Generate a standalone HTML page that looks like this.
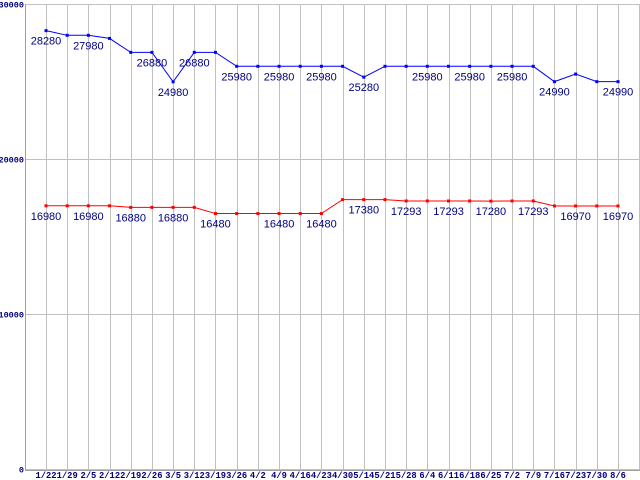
<!DOCTYPE html>
<html><head><meta charset="utf-8"><style>
html,body{margin:0;padding:0;background:#fff;}
svg{display:block;}
</style></head><body>
<svg id="chart" width="640" height="480" xmlns="http://www.w3.org/2000/svg"></svg>
<script>
const categories=["1/22","1/29","2/5","2/12","2/19","2/26","3/5","3/12","3/19","3/26","4/2","4/9","4/16","4/23","4/30","5/14","5/21","5/28","6/4","6/11","6/18","6/25","7/2","7/9","7/16","7/23","7/30","8/6"];
const blueValues=[28280,27980,27980,27780,26880,26880,24980,26880,26880,25980,25980,25980,25980,25980,25980,25280,25980,25980,25980,25980,25980,25980,25980,25980,24990,25480,24990,24990];
const redValues=[16980,16980,16980,16980,16880,16880,16880,16880,16480,16480,16480,16480,16480,16480,17380,17380,17380,17293,17293,17293,17293,17280,17293,17293,16970,16970,16970,16970];
const blueLabelIdx=[0,2,5,6,7,9,11,13,15,18,20,22,24,27];
const redLabelIdx=[0,2,4,6,8,11,13,15,17,19,21,23,25,27];
const yTicks=[0,10000,20000,30000];
const NS="http://www.w3.org/2000/svg";
const svg=document.getElementById('chart');
const X0=46,XSTEP=(618-46)/27,Y0=469,YSCALE=465/30000;
const xs=i=>X0+i*XSTEP;
const ys=v=>Y0-v*YSCALE;
function mk(tag,attrs,parent){const e=document.createElementNS(NS,tag);for(const k in attrs)e.setAttribute(k,attrs[k]);(parent||svg).appendChild(e);return e;}
yTicks.forEach(t=>{
  const y=Math.round(ys(t))+0.5;
  const l=mk('line',{x1:25,x2:640,y1:y,y2:y,stroke:'#c0c0c0','stroke-width':1});
  
  
  const tx=mk('text',{x:24,y:y+3,'text-anchor':'end','font-family':'Liberation Mono, monospace','font-size':8.5,'font-weight':'bold',fill:'#000080'});
  tx.textContent=t;
  
  
});
categories.forEach((c,i)=>{
  const x=Math.round(xs(i))+0.5;
  const l=mk('line',{x1:x,x2:x,y1:4,y2:470,stroke:'#c0c0c0','stroke-width':1});
  
  
  const tx=mk('text',{x:xs(i),y:478,'text-anchor':'middle','font-family':'Liberation Mono, monospace','font-size':8.8,'font-weight':'bold',fill:'#000080'});
  tx.textContent=c;
  
  
});
const rl=mk('line',{x1:639.5,x2:639.5,y1:4,y2:470,stroke:'#c0c0c0'});


const ax=mk('line',{x1:25.5,x2:25.5,y1:4,y2:470,stroke:'#a0a0a0'});


const bx=mk('line',{x1:25,x2:640,y1:470.5,y2:470.5,stroke:'#a0a0a0'});


function series(vals,color,labels,name){
  const g=mk('g',{});
  
  
  const p=mk('polyline',{points:vals.map((v,i)=>xs(i)+','+ys(v)).join(' '),fill:'none',stroke:color,'stroke-width':1},g);
  
  
  vals.forEach((v,i)=>{
    const r=mk('rect',{x:xs(i)-1.5,y:ys(v)-1.5,width:3,height:3,fill:color},g);
    
    
  });
  labels.forEach(i=>{
    const t=mk('text',{x:xs(i),y:ys(vals[i])+14,'text-anchor':'middle','font-family':'Liberation Sans, sans-serif','font-size':11,fill:'#000080'},g);
    t.textContent=vals[i];
    
    
  });
}
series(blueValues,'#0000ff',blueLabelIdx,'blue-series');
series(redValues,'#ff0000',redLabelIdx,'red-series');
</script>
</body></html>
